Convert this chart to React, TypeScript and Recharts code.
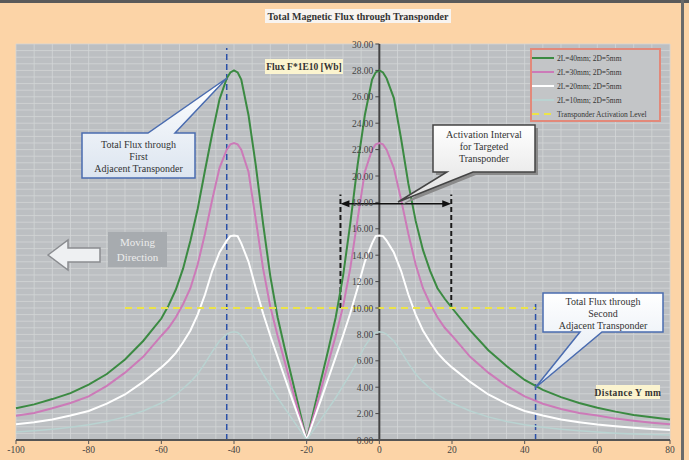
import React from 'react';
import { ComposedChart, Line, XAxis, YAxis, CartesianGrid, ReferenceLine, Legend } from 'recharts';

// ---------- data ----------
const distanceY = [-100, -95, -90, -85, -80, -75, -70, -65, -60, -58, -56, -54, -52, -50, -48, -46, -44, -42, -41, -40, -39,
  -38, -36, -34, -32, -30, -28, -26, -24, -22, -20,
  -18, -16, -14, -12, -10, -8, -6, -4, -2, -1, 0, 1,
  2, 4, 6, 8, 10, 12, 14, 16, 18, 20, 25, 30, 35, 40, 45, 50, 55, 60, 65, 70, 75, 80];

const flux2L40 = [2.4, 2.7, 3.1, 3.55, 4.2, 5.0, 6.1, 7.5, 9.2, 10.2, 11.4, 13.0, 15.1, 17.5, 20.4, 23.2, 25.8, 27.4, 27.85, 28.0, 27.85,
  27.3, 24.6, 20.8, 16.4, 12.4, 9.3, 6.9, 4.6, 2.3, 0,
  2.3, 4.6, 6.9, 9.3, 12.4, 16.4, 20.8, 24.6, 27.3, 27.85, 28.0, 27.85,
  27.4, 25.9, 22.8, 19.4, 16.6, 14.4, 12.8, 11.5, 10.7, 10.0, 8.3, 6.8, 5.6, 4.55, 3.8, 3.25, 2.8, 2.45, 2.15, 1.9, 1.72, 1.56];

const flux2L30 = [1.84, 2.05, 2.4, 2.8, 3.3, 4.1, 5.1, 6.3, 7.9, 8.5, 9.3, 10.3, 11.5, 13.3, 15.6, 18.2, 20.6, 22.0, 22.4, 22.5, 22.4,
  22.0, 20.3, 16.7, 13.0, 10.1, 7.9, 5.9, 3.9, 1.9, 0,
  1.9, 3.9, 5.9, 7.9, 10.1, 13.0, 16.7, 20.3, 22.0, 22.4, 22.5, 22.4,
  22.0, 20.6, 18.2, 15.6, 13.3, 11.5, 10.3, 9.3, 8.5, 7.9, 6.3, 5.1, 4.1, 3.3, 2.75, 2.35, 2.05, 1.85, 1.62, 1.45, 1.31, 1.19];

const flux2L20 = [1.2, 1.35, 1.55, 1.85, 2.2, 2.75, 3.45, 4.4, 5.5, 6.0, 6.6, 7.4, 8.3, 9.5, 11.0, 12.8, 14.2, 15.1, 15.45, 15.5, 15.45,
  14.9, 13.5, 11.5, 9.6, 7.9, 6.3, 4.7, 3.1, 1.55, 0,
  1.55, 3.1, 4.7, 6.3, 7.9, 9.6, 11.5, 13.5, 14.9, 15.45, 15.5, 15.45,
  15.1, 14.2, 12.8, 11.0, 9.5, 8.3, 7.4, 6.6, 6.0, 5.5, 4.4, 3.45, 2.75, 2.2, 1.85, 1.55, 1.35, 1.18, 1.05, 0.93, 0.84, 0.76];

const flux2L10 = [0.6, 0.7, 0.82, 0.97, 1.15, 1.4, 1.75, 2.2, 2.8, 3.1, 3.45, 3.9, 4.4, 5.0, 5.8, 6.7, 7.5, 8.0, 8.15, 8.2, 8.15,
  7.9, 7.1, 6.0, 5.0, 4.1, 3.2, 2.4, 1.6, 0.8, 0,
  0.8, 1.6, 2.4, 3.2, 4.1, 5.0, 6.0, 7.1, 7.9, 8.15, 8.2, 8.15,
  8.0, 7.5, 6.7, 5.8, 5.0, 4.4, 3.9, 3.45, 3.1, 2.8, 2.2, 1.75, 1.4, 1.15, 0.97, 0.82, 0.7, 0.6, 0.52, 0.46, 0.41, 0.37];

const activationDistance = [-70, 43];
const activationLevel = [10, 10];

const seriesNames = ['2L=40mm; 2D=5mm', '2L=30mm; 2D=5mm', '2L=20mm; 2D=5mm', '2L=10mm; 2D=5mm', 'Transponder Activation Level'];

const xTickValues = [-100, -80, -60, -40, -20, 0, 20, 40, 60, 80];
const yTickValues = [0, 2, 4, 6, 8, 10, 12, 14, 16, 18, 20, 22, 24, 26, 28, 30];

// annotation anchors (data units)
const firstTransponderX = -42;
const secondTransponderX = 43;
const intervalStart = -10.7;
const intervalEnd = 19.8;
const intervalArrowLevel = 17.9;

// ---------- layout ----------
const W = 689;
const H = 460;
const Y_AXIS_W = 10;
const M = { top: 44, right: 19, bottom: 4, left: 16 - Y_AXIS_W };
const PLOT_LEFT = 16;
const X_DOMAIN: [number, number] = [-100, 80];
const Y_DOMAIN: [number, number] = [0, 30];
const Y_AXIS_SHIFT = ((W - PLOT_LEFT - M.right) * (0 - X_DOMAIN[0])) / (X_DOMAIN[1] - X_DOMAIN[0]);

const gridX = Array.from({ length: 37 }, (_, i) => -100 + i * 5);
const gridY = Array.from({ length: 61 }, (_, i) => i * 0.5);

const serif = '"Liberation Serif", "Times New Roman", serif';

const chartData = distanceY.map((x, i) => ({
  x,
  f40: flux2L40[i],
  f30: flux2L30[i],
  f20: flux2L20[i],
  f10: flux2L10[i],
}));
const activationData = activationDistance.map((x, i) => ({ x, level: activationLevel[i] }));

const YTick = (props: any) => {
  const { y, payload } = props;
  const ax = PLOT_LEFT + Y_AXIS_SHIFT;
  return (
    <g>
      <line x1={ax - 4} y1={y} x2={ax} y2={y} stroke="#444" strokeWidth={1} />
      <text x={ax - 6} y={y} dy={3.5} textAnchor="end" fontFamily={serif} fontSize={9.5} fill="#444">
        {Number(payload.value).toFixed(2)}
      </text>
    </g>
  );
};

const ArrowShape = (props: any) => {
  const { x1, y1, x2, y2 } = props;
  const L = 9;
  const h = 3.5;
  return (
    <g>
      <line x1={x1 + 4} y1={y1} x2={x2 - 4} y2={y2} stroke="#111" strokeWidth={1.5} />
      <polygon points={`${x1},${y1} ${x1 + L},${y1 - h} ${x1 + L},${y1 + h}`} fill="#111" />
      <polygon points={`${x2},${y2} ${x2 - L},${y2 - h} ${x2 - L},${y2 + h}`} fill="#111" />
    </g>
  );
};

const LegendBox = (props: any) => {
  const payload = [...(props.payload || [])].sort(
    (a: any, b: any) => seriesNames.indexOf(a.value) - seriesNames.indexOf(b.value)
  );
  return (
    <div
      style={{
        width: 131,
        height: 74,
        border: '2px solid #e2897a',
        background: '#c3c5c7',
        boxSizing: 'border-box',
        paddingTop: 1,
        fontFamily: serif,
        fontSize: 7.5,
        color: '#333',
      }}
    >
      {payload.map((p: any, i: number) => (
        <div key={i} style={{ display: 'flex', alignItems: 'center', height: 14 }}>
          <svg width={22} height={6} style={{ display: 'block' }}>
            <line
              x1={0}
              y1={3}
              x2={22}
              y2={3}
              stroke={p.color}
              strokeWidth={2}
              strokeDasharray={p.payload && p.payload.strokeDasharray}
            />
          </svg>
          <span style={{ marginLeft: 3, whiteSpace: 'nowrap' }}>{p.value}</span>
        </div>
      ))}
    </div>
  );
};

export default function App() {
  return (
    <div style={{ position: 'absolute', left: 0, top: 0, width: W, height: H, background: '#fcd4a7', overflow: 'hidden' }}>
      <ComposedChart width={W} height={H} data={chartData} margin={M}>
        <CartesianGrid
          fill="#bcbfc2"
          fillOpacity={1}
          stroke="#d3d5d7"
          strokeWidth={0.8}
          verticalValues={gridX}
          horizontalValues={gridY}
        />
        <XAxis
          dataKey="x"
          type="number"
          domain={X_DOMAIN}
          ticks={xTickValues}
          interval={0}
          height={16}
          axisLine={{ stroke: '#555', strokeWidth: 2 }}
          tickLine={{ stroke: '#555' }}
          tickSize={4}
          tick={{ fontFamily: serif, fontSize: 9.5, fill: '#444' }}
        />
        <YAxis
          type="number"
          domain={Y_DOMAIN}
          ticks={yTickValues}
          interval={0}
          width={Y_AXIS_W}
          axisLine={false}
          tickLine={false}
          tickSize={0}
          tickMargin={0}
          tick={YTick}
        />
        <ReferenceLine x={0} stroke="#444" strokeWidth={2} />
        <ReferenceLine
          segment={[{ x: firstTransponderX, y: 0 }, { x: firstTransponderX, y: 29.7 }]}
          stroke="#2a50a8"
          strokeWidth={1.5}
          strokeDasharray="6 4"
        />
        <ReferenceLine
          segment={[{ x: secondTransponderX, y: 0 }, { x: secondTransponderX, y: 10.4 }]}
          stroke="#2a50a8"
          strokeWidth={1.5}
          strokeDasharray="6 4"
        />
        <ReferenceLine
          segment={[{ x: intervalStart, y: 10 }, { x: intervalStart, y: 18.6 }]}
          stroke="#1a1a1a"
          strokeWidth={2}
          strokeDasharray="5 3"
        />
        <ReferenceLine
          segment={[{ x: intervalEnd, y: 10 }, { x: intervalEnd, y: 18.6 }]}
          stroke="#1a1a1a"
          strokeWidth={2}
          strokeDasharray="5 3"
        />
        <Line type="linear" dataKey="f40" name={seriesNames[0]} stroke="#3b8a42" strokeWidth={2} dot={false} activeDot={false} isAnimationActive={false} />
        <Line type="linear" dataKey="f30" name={seriesNames[1]} stroke="#cc7ab8" strokeWidth={2} dot={false} activeDot={false} isAnimationActive={false} />
        <Line type="linear" dataKey="f20" name={seriesNames[2]} stroke="#ffffff" strokeWidth={2} dot={false} activeDot={false} isAnimationActive={false} />
        <Line type="linear" dataKey="f10" name={seriesNames[3]} stroke="#b9d3d1" strokeWidth={1.5} dot={false} activeDot={false} isAnimationActive={false} />
        <Line
          type="linear"
          data={activationData}
          dataKey="level"
          name={seriesNames[4]}
          stroke="#ece448"
          strokeWidth={2}
          strokeDasharray="7 5"
          dot={false}
          activeDot={false}
          isAnimationActive={false}
        />
        <ReferenceLine
          segment={[{ x: intervalStart, y: intervalArrowLevel }, { x: intervalEnd, y: intervalArrowLevel }]}
          stroke="#111"
          shape={ArrowShape}
        />
        <Legend
          layout="vertical"
          align="center"
          verticalAlign="middle"
          content={LegendBox}
          wrapperStyle={{ left: 530, top: 48, width: 131, height: 74 }}
        />
      </ComposedChart>

      <svg width={W} height={H} style={{ position: 'absolute', left: 0, top: 0, pointerEvents: 'none' }}>
        <defs>
          <linearGradient id="cBlue" x1="0" y1="0" x2="0" y2="1">
            <stop offset="0" stopColor="#ffffff" />
            <stop offset="1" stopColor="#dce5f0" />
          </linearGradient>
          <linearGradient id="cGray" x1="0" y1="0" x2="0" y2="1">
            <stop offset="0" stopColor="#ffffff" />
            <stop offset="1" stopColor="#e0e0e0" />
          </linearGradient>
        </defs>

        {/* frame */}
        <rect x={0} y={0} width={W} height={3} fill="#5a5a5a" />
        <rect x={681} y={0} width={3} height={H} fill="#6a6a6a" />

        {/* title */}
        <rect x={265} y={9} width={186} height={14} fill="#f8f4f0" />
        <text x={358} y={19.5} textAnchor="middle" fontFamily={serif} fontSize={10} fontWeight="bold" fill="#333">
          Total Magnetic Flux through Transponder
        </text>

        {/* flux label */}
        <rect x={265} y={59} width={78} height={15} fill="#fbf4cf" />
        <text x={304} y={70} textAnchor="middle" fontFamily={serif} fontSize={9.5} fontWeight="bold" fill="#333">
          Flux F*1E10 [Wb]
        </text>

        {/* distance label */}
        <rect x={596} y={385} width={64} height={14} fill="#fbf4cf" />
        <text x={628} y={395.5} textAnchor="middle" fontFamily={serif} fontSize={9.5} fontWeight="bold" fill="#333" letterSpacing={0.4}>
          Distance Y mm
        </text>

        {/* callout 1 */}
        <path d="M82,133 L148,133 L227,78 L175,133 L195,133 L195,178 L82,178 Z" fill="url(#cBlue)" stroke="#4a6cb0" strokeWidth={1.5} />
        <text textAnchor="middle" fontFamily={serif} fontSize={10} fill="#333">
          <tspan x={138.5} y={148}>Total Flux through</tspan>
          <tspan x={138.5} y={160}>First</tspan>
          <tspan x={138.5} y={172}>Adjacent Transponder</tspan>
        </text>

        {/* callout 2 */}
        <path d="M436,128 L538,128 L538,175 L476,175 L401,205 L450,175 L436,175 Z" fill="#8a8a8a" />
        <path d="M433,125 L535,125 L535,172 L473,172 L398,202 L447,172 L433,172 Z" fill="url(#cGray)" stroke="#444" strokeWidth={1.5} />
        <text textAnchor="middle" fontFamily={serif} fontSize={10} fill="#333">
          <tspan x={484} y={138}>Activation Interval</tspan>
          <tspan x={484} y={150}>for Targeted</tspan>
          <tspan x={484} y={162}>Transponder</tspan>
        </text>

        {/* callout 3 */}
        <path d="M543,293 L663,293 L663,332 L602,332 L535,388 L580,332 L543,332 Z" fill="url(#cBlue)" stroke="#4a6cb0" strokeWidth={1.5} />
        <text textAnchor="middle" fontFamily={serif} fontSize={10} fill="#333">
          <tspan x={603} y={305}>Total Flux through</tspan>
          <tspan x={603} y={317}>Second</tspan>
          <tspan x={603} y={329}>Adjacent Transponder</tspan>
        </text>

        {/* moving direction */}
        <polygon points="48,255 68,240 68,248 100,248 100,262 68,262 68,270" fill="#eef0f2" stroke="#8a8c90" strokeWidth={1.5} />
        <rect x={108} y={232} width={59} height={35} fill="#a7abaf" />
        <text textAnchor="middle" fontFamily={serif} fontSize={11} fill="#ececec">
          <tspan x={137.5} y={246}>Moving</tspan>
          <tspan x={137.5} y={261}>Direction</tspan>
        </text>
      </svg>
    </div>
  );
}
